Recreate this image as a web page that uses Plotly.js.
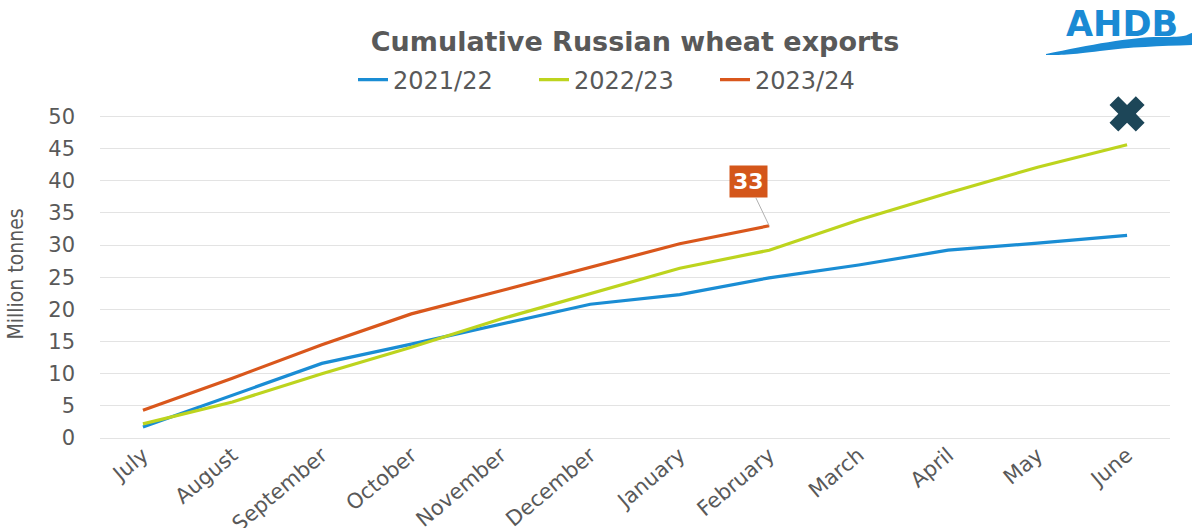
<!DOCTYPE html>
<html>
<head>
<meta charset="utf-8">
<script src="https://cdn.plot.ly/plotly-3.0.1.min.js"></script>
<style>
  html, body { margin: 0; padding: 0; background: #ffffff; overflow: hidden; }
  #chart { width: 1192px; height: 528px; }
</style>
</head>
<body>
<div id="chart"></div>
<script>
// ---- data ----
var months = ['July', 'August', 'September', 'October', 'November', 'December',
              'January', 'February', 'March', 'April', 'May', 'June'];
var seriesNames = ['2021/22', '2022/23', '2023/24'];
var exports2122 = [1.7, 6.6, 11.6, 14.6, 17.7, 20.8, 22.3, 24.9, 26.9, 29.2, 30.3, 31.5];
var exports2223 = [2.2, 5.6, 10.0, 14.1, 18.5, 22.5, 26.4, 29.2, 33.9, 38.1, 42.1, 45.6];
var exports2324 = [4.3, 9.3, 14.5, 19.3, 22.9, 26.5, 30.2, 33.0];
var forecastMonth = ['June'];
var forecastValue = [50.4];
var labelMonth = 'February';
var labelValue = 33;
var yTicks = [0, 5, 10, 15, 20, 25, 30, 35, 40, 45, 50];

// ---- styling ----
var textGrey = '#595959';
var colours = ['#1a8dd4', '#bdd41e', '#d9571c'];
var logoBlue = '#1a8ad4';

// plot-area geometry (pixels) used to place logo decoration
var W = 1192, H = 528;
var M = {l: 100, r: 22, t: 110, b: 90};
function px2x(px) { return (px - M.l) / (W - M.l - M.r); }
function px2y(py) { return (H - M.b - py) / (H - M.t - M.b); }
function pt(px, py) { return px2x(px) + ',' + px2y(py); }

var traces = [
  {x: months.slice(0, exports2122.length), y: exports2122, name: seriesNames[0], type: 'scatter', mode: 'lines',
   line: {color: colours[0], width: 3.2}},
  {x: months.slice(0, exports2223.length), y: exports2223, name: seriesNames[1], type: 'scatter', mode: 'lines',
   line: {color: colours[1], width: 3.2}},
  {x: months.slice(0, exports2324.length), y: exports2324, name: seriesNames[2], type: 'scatter', mode: 'lines',
   line: {color: colours[2], width: 3.2}},
  {x: forecastMonth, y: forecastValue, type: 'scatter', mode: 'markers', showlegend: false,
   cliponaxis: false, hoverinfo: 'skip',
   marker: {symbol: 'x', size: 31, color: '#1d4658', line: {width: 0}}}
];

var swoosh = 'M' + pt(1046, 54) +
  ' C' + pt(1090, 45) + ' ' + pt(1130, 37) + ' ' + pt(1160, 37) +
  ' S' + pt(1185, 35) + ' ' + pt(1192, 33) +
  ' L' + pt(1192, 45) +
  ' C' + pt(1160, 46) + ' ' + pt(1130, 47) + ' ' + pt(1100, 51) +
  ' S' + pt(1060, 55) + ' ' + pt(1046, 55) + ' Z';

var layout = {
  width: W, height: H,
  margin: M,
  paper_bgcolor: '#ffffff',
  plot_bgcolor: '#ffffff',
  font: {family: 'DejaVu Sans, Liberation Sans, Arial, sans-serif', color: textGrey},
  title: {
    text: '<b>Cumulative Russian wheat exports</b>',
    font: {family: 'DejaVu Sans, Liberation Sans, Arial, sans-serif', size: 27, color: textGrey},
    x: 0.5, xref: 'paper', xanchor: 'center',
    y: 1 - 42 / H, yref: 'container', yanchor: 'middle'
  },
  showlegend: true,
  legend: {
    orientation: 'h',
    x: px2x(353), xanchor: 'left',
    y: px2y(80), yanchor: 'middle',
    font: {size: 24, color: textGrey},
    entrywidth: 136, entrywidthmode: 'pixels',
    bgcolor: 'rgba(0,0,0,0)'
  },
  xaxis: {
    type: 'category',
    categoryorder: 'array', categoryarray: months,
    range: [-0.48, 11.48],
    showgrid: false, zeroline: false, showline: false,
    ticks: '',
    tickangle: -40,
    tickfont: {size: 21, color: textGrey},
    fixedrange: true
  },
  yaxis: {
    range: [0, 51],
    tickvals: yTicks,
    showgrid: true, gridcolor: '#e3e3e3', gridwidth: 1,
    zeroline: true, zerolinecolor: '#e3e3e3', zerolinewidth: 1,
    showline: false, ticks: '',
    ticklabelstandoff: 24,
    tickfont: {size: 21, color: textGrey},
    title: {text: 'Million tonnes',
            font: {family: 'DejaVu Sans Condensed, Liberation Sans Narrow, Arial Narrow, Liberation Sans, sans-serif', size: 21, color: textGrey},
            standoff: 18},
    fixedrange: true
  },
  annotations: [
    {x: labelMonth, y: labelValue, xref: 'x', yref: 'y',
     text: '<b>' + labelValue + '</b>',
     showarrow: true, arrowhead: 0, arrowwidth: 1, arrowcolor: '#b0b0b0',
     ax: -21, ay: -44, standoff: 0,
     bgcolor: '#d4561a', borderpad: 3,
     font: {size: 22, color: '#ffffff'}},
    {x: px2x(1122), y: px2y(24), xref: 'paper', yref: 'paper',
     text: '<b>AHDB</b>', showarrow: false,
     xanchor: 'center', yanchor: 'middle',
     font: {family: 'DejaVu Sans, Liberation Sans, sans-serif', size: 35, color: logoBlue}}
  ],
  shapes: [
    {type: 'path', xref: 'paper', yref: 'paper', path: swoosh,
     fillcolor: logoBlue, line: {width: 0}}
  ]
};

Plotly.newPlot('chart', traces, layout, {displayModeBar: false, staticPlot: true});
</script>
</body>
</html>
